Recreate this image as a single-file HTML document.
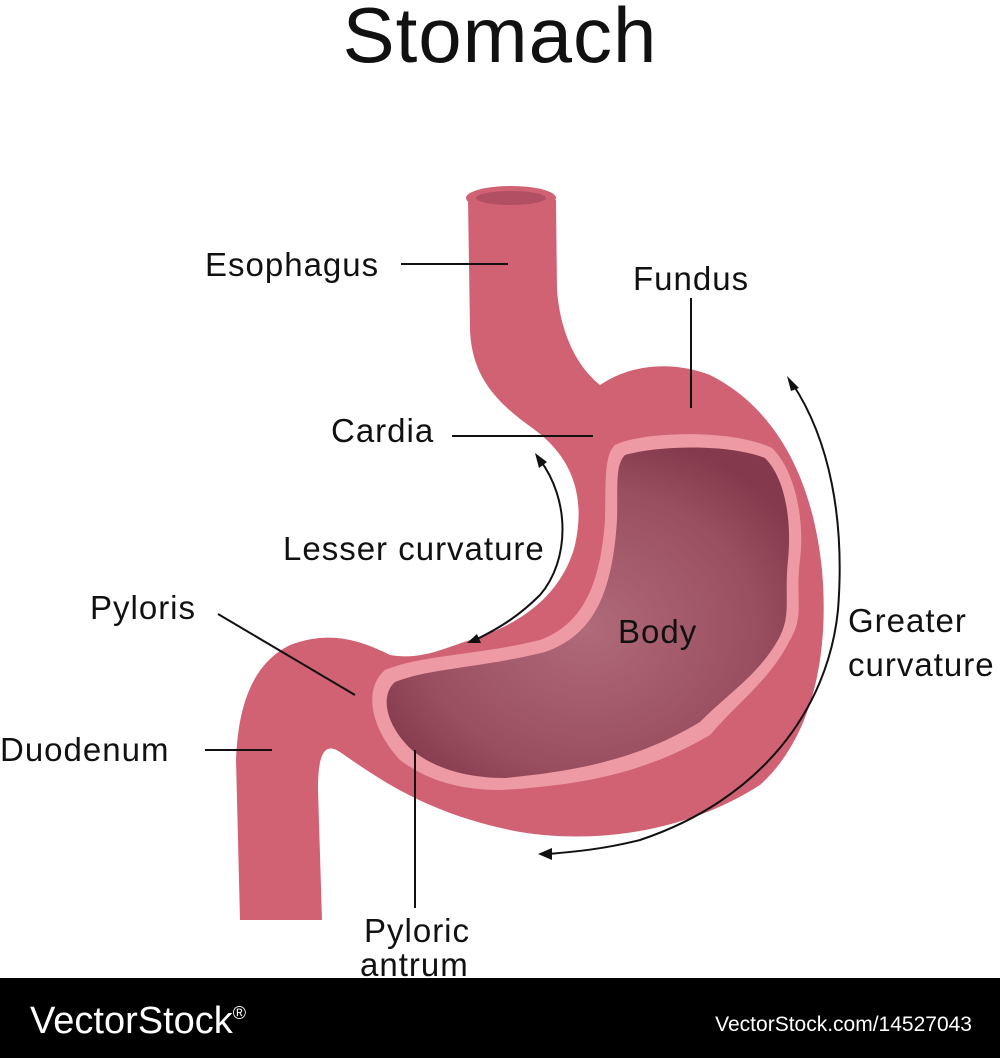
<!DOCTYPE html>
<html><head><meta charset="utf-8"><style>
html,body{margin:0;padding:0;background:#fff;}
body{width:1000px;height:1058px;position:relative;overflow:hidden;font-family:"Liberation Sans",sans-serif;}
svg{position:absolute;left:0;top:0;}
</style></head><body>
<svg width="1000" height="1058" viewBox="0 0 1000 1058">
<defs>
<radialGradient id="lum" cx="0.5" cy="0.55" r="0.6">
<stop offset="0" stop-color="#b06a7a"/><stop offset="0.7" stop-color="#9a4f60"/><stop offset="1" stop-color="#843a4c"/>
</radialGradient>
</defs>
<path d="M468,200 L470,330 C472,380 500,405 535,430 C575,460 585,500 575,545 C562,595 520,625 470,640 C440,650 420,660 390,655 C360,640 330,630 290,645 C250,665 238,710 236,760 L240,920 L322,920 L318,790 C318,760 322,740 340,752 C380,780 430,815 520,832 C600,845 690,830 760,785 C810,740 830,660 822,570 C812,470 770,405 710,375 C670,360 630,365 600,385 C575,365 560,330 557,290 L556,200 Z" fill="#d16274"/>
<ellipse cx="511" cy="198" rx="45" ry="12" fill="#d16274"/>
<ellipse cx="511" cy="198" rx="35" ry="7" fill="#b24f62"/>
<path d="M615,445 C640,432 730,428 772,448 C795,470 805,520 800,560 C795,600 805,615 790,640 C770,680 740,700 710,735 C650,770 590,785 500,790 C450,790 420,775 400,760 C372,730 362,690 385,670 C420,655 480,655 540,640 C580,625 600,590 605,520 C606,480 604,455 615,445 Z" fill="#ee9aa4"/>
<path d="M625,455 C660,445 730,444 765,458 C785,478 792,520 788,560 C784,600 792,615 778,640 C758,675 730,692 700,722 C645,755 590,770 505,778 C460,778 430,765 412,750 C385,725 380,695 395,682 C430,668 480,668 545,652 C590,636 612,600 617,520 C618,485 615,465 625,455 Z" fill="url(#lum)"/>
<g stroke="#111" stroke-width="2" fill="none">
<line x1="401" y1="264" x2="508" y2="264"/>
<line x1="691" y1="298" x2="691" y2="408"/>
<line x1="452" y1="436" x2="593" y2="436"/>
<line x1="218" y1="614" x2="355" y2="695"/>
<line x1="205" y1="750" x2="272" y2="750"/>
<line x1="415" y1="750" x2="415" y2="908"/>
<path d="M792,383 C830,440 845,520 838,610 C828,710 760,800 640,840 C600,850 570,852 548,854"/>
<path d="M540,460 C570,500 570,560 540,595 C520,615 500,628 475,640"/>
</g>
<g fill="#111">
<polygon points="787,376 799,388 791,391"/>
<polygon points="538,854 552,848 552,860"/>
<polygon points="535,453 547,462 539,468"/>
<polygon points="467,643 477,634 481,643"/>
</g>
<g font-family="Liberation Sans, sans-serif" fill="#111" font-size="33" letter-spacing="1">
<text x="500" y="62" font-size="78" text-anchor="middle" letter-spacing="1">Stomach</text>
<text x="205" y="276">Esophagus</text>
<text x="633" y="290">Fundus</text>
<text x="331" y="442">Cardia</text>
<text x="283" y="560">Lesser curvature</text>
<text x="90" y="619">Pyloris</text>
<text x="618" y="643">Body</text>
<text x="848" y="632">Greater</text>
<text x="848" y="676">curvature</text>
<text x="0" y="761">Duodenum</text>
<text x="364" y="942">Pyloric</text>
<text x="360" y="976">antrum</text>
</g>
<rect x="0" y="978" width="1000" height="80" fill="#000"/>
<text x="30" y="1033" font-size="38" fill="#fff" font-family="Liberation Sans, sans-serif">VectorStock<tspan font-size="18" dy="-14">®</tspan></text>
<text x="972" y="1031" font-size="21" fill="#fff" text-anchor="end" font-family="Liberation Sans, sans-serif">VectorStock.com/14527043</text>
</svg>
</body></html>
